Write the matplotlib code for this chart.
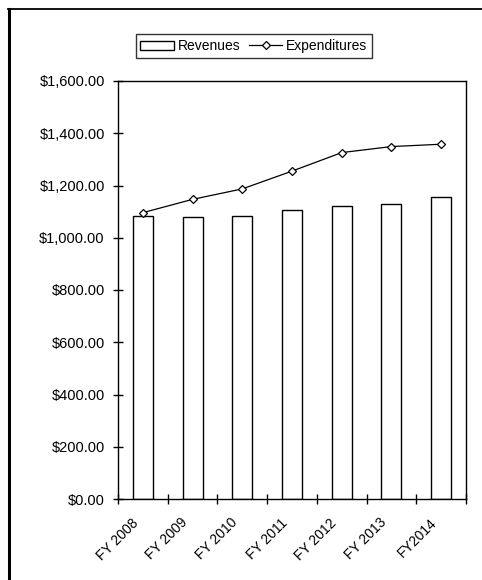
import matplotlib
matplotlib.use("Agg")
import matplotlib.pyplot as plt
import matplotlib.transforms as mtransforms
from matplotlib.lines import Line2D
from matplotlib.ticker import FuncFormatter, FixedLocator
import numpy as np

plt.rcParams['font.family'] = ['Liberation Sans', 'DejaVu Sans']

years = ["FY 2008", "FY 2009", "FY 2010", "FY 2011", "FY 2012", "FY 2013", "FY2014"]
revenues = [1083, 1078, 1083, 1108, 1122, 1131, 1156]
expenditures = [1096, 1147, 1187, 1255, 1326, 1349, 1358]
y_ticks = [0, 200, 400, 600, 800, 1000, 1200, 1400, 1600]

fig = plt.figure(figsize=(4.82, 5.80), dpi=100)
ax = fig.add_axes([118 / 482, 1 - 499 / 580, (466 - 118) / 482, (499 - 81) / 580])

x = np.arange(len(years))
bars = ax.bar(x, revenues, width=0.4, color="white", edgecolor="black",
              linewidth=1.0, label="Revenues", zorder=2)
line, = ax.plot(x, expenditures, color="black", linewidth=0.9, marker="D",
                markersize=4.5, markerfacecolor="white", markeredgecolor="black",
                markeredgewidth=0.9, label="Expenditures", zorder=3)

ax.set_xlim(-0.5, len(years) - 0.5)
ax.set_ylim(0, 1600)
ax.yaxis.set_major_locator(FixedLocator(y_ticks))
ax.yaxis.set_major_formatter(FuncFormatter(lambda v, p: f"${v:,.2f}"))

# category labels at centres, tick marks on the boundaries between categories
ax.set_xticks(x)
ax.set_xticklabels(years, rotation=45, ha="right", va="top", rotation_mode="anchor")
ax.set_xticks(np.arange(-0.5, len(years) + 0.5, 1.0), minor=True)
ax.tick_params(axis="x", which="major", length=0, pad=12, labelsize=10)
ax.tick_params(axis="x", which="minor", direction="inout", length=7, width=1)
ax.tick_params(axis="y", direction="inout", length=7, width=1, pad=6, labelsize=10.5)

shift = mtransforms.ScaledTranslation(-12 / 100, 0, fig.dpi_scale_trans)
for lbl in ax.get_xticklabels():
    lbl.set_transform(lbl.get_transform() + shift)

for s in ax.spines.values():
    s.set_linewidth(1.0)
    s.set_color("black")

fig.legend(handles=[bars, line], labels=["Revenues", "Expenditures"],
           loc="center", bbox_to_anchor=(254 / 482, 1 - 46 / 580), ncol=2,
           frameon=True, fancybox=False, edgecolor="black", fontsize=10,
           handlelength=2.4, handleheight=0.6, columnspacing=0.6,
           handletextpad=0.3, borderpad=0.35, borderaxespad=0)
leg = fig.legends[0]
leg.get_frame().set_linewidth(1.0)

# page frame: top rule and heavy left rule
fig.add_artist(Line2D([8 / 482, 1.0], [1 - 9 / 580, 1 - 9 / 580],
                      transform=fig.transFigure, color="black", linewidth=1.3))
fig.add_artist(Line2D([9 / 482, 9 / 482], [1 - 9 / 580, 0.0],
                      transform=fig.transFigure, color="black", linewidth=2.2))

fig.savefig("out.png", dpi=100)
